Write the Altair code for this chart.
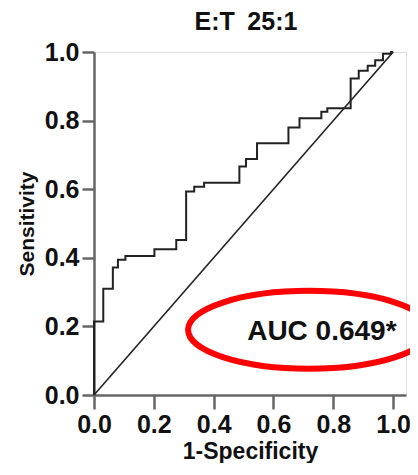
import altair as alt
import pandas as pd

# ROC step curve (1-Specificity, Sensitivity)
fpr = [0, 0, 0.031, 0.063, 0.08, 0.105, 0.202, 0.275, 0.308, 0.335, 0.368,
       0.486, 0.508, 0.545, 0.65, 0.687, 0.76, 0.78, 0.858, 0.885, 0.915,
       0.94, 0.966, 0.993, 1.0]
tpr = [0, 0.214, 0.31, 0.372, 0.394, 0.405, 0.425, 0.452, 0.593, 0.607, 0.619,
       0.666, 0.688, 0.734, 0.78, 0.807, 0.826, 0.836, 0.923, 0.945, 0.96,
       0.976, 0.995, 1.0, 1.0]
diag_x = [0, 1]
diag_y = [0, 1]
ticks = [0.0, 0.2, 0.4, 0.6, 0.8, 1.0]
title_text = "E:T\u200225:1"
auc_label = "AUC 0.649*"

FONT = "Liberation Sans"
AX = "#666666"
TXT = "#111111"
PAD_LEFT = 86

roc = pd.DataFrame({"x": fpr, "y": tpr, "i": list(range(len(fpr)))})
diag = pd.DataFrame({"x": diag_x, "y": diag_y})

common = dict(grid=False, labelFont=FONT, titleFont=FONT, labelFontWeight="bold",
              titleFontWeight="bold", labelColor=TXT, titleColor=TXT,
              domainColor=AX, tickColor=AX, domainWidth=2.5, tickWidth=2.5,
              labelFlush=False, labelOverlap=False)
xscale = alt.Scale(domain=[0, 1.043], nice=False, zero=False)
yscale = alt.Scale(domain=[0, 1], nice=False)
xaxis = alt.Axis(values=ticks, format=".1f", title="1-Specificity",
                 tickSize=14, labelPadding=3, titlePadding=3,
                 labelFontSize=25, titleFontSize=23, **common)
yaxis = alt.Axis(values=ticks, format=".1f", title="Sensitivity",
                 tickSize=12, labelPadding=3, titlePadding=7,
                 labelFontSize=25, titleFontSize=21, **common)

X = alt.X("x:Q", scale=xscale, axis=xaxis)
Y = alt.Y("y:Q", scale=yscale, axis=yaxis)

diag_layer = alt.Chart(diag).mark_line(color="#222", strokeWidth=1.6).encode(x=X, y=Y)
roc_layer = alt.Chart(roc).mark_line(color="#222", strokeWidth=2, interpolate="step-after").encode(
    x=X, y=Y, order="i:Q")

text_layer = alt.Chart(pd.DataFrame({"t": [auc_label]})).mark_text(
    align="left", baseline="alphabetic", fontSize=28, font=FONT, fontWeight="bold", color=TXT
).encode(x=alt.datum(0.512), y=alt.datum(0.16), text="t:N")

title_layer = alt.Chart(pd.DataFrame({"t": [title_text]})).mark_text(
    align="center", baseline="alphabetic", fontSize=25, font=FONT, fontWeight="bold", color=TXT
).encode(x=alt.value(238 - PAD_LEFT), y=alt.value(-22), text="t:N")

k = 0.5523
ry = 0.322
ell = ("M -1 0 C -1 {a} {b} {c} 0 {c} C {d} {c} 1 {a} 1 0 "
       "C 1 {e} {d} {f} 0 {f} C {b} {f} -1 {e} -1 0 Z").format(
    a=-k * ry, b=-k, c=-ry, d=k, e=k * ry, f=ry)
ellipse_layer = alt.Chart(pd.DataFrame({"t": [auc_label]})).mark_point(
    shape=ell, size=242 * 242, filled=False, stroke="#ff0000", strokeWidth=6, opacity=1
).encode(x=alt.datum(0.719), y=alt.datum(0.19))

chart = alt.layer(diag_layer, roc_layer, text_layer, title_layer, ellipse_layer).properties(
    width=312, height=343,
    autosize="none",
    padding={"left": PAD_LEFT, "top": 44, "right": 4, "bottom": 68},
).configure_view(stroke=AX, strokeWidth=2.5).configure(background="white")

chart.save("out.html", embed_options={"renderer": "svg", "actions": False})
